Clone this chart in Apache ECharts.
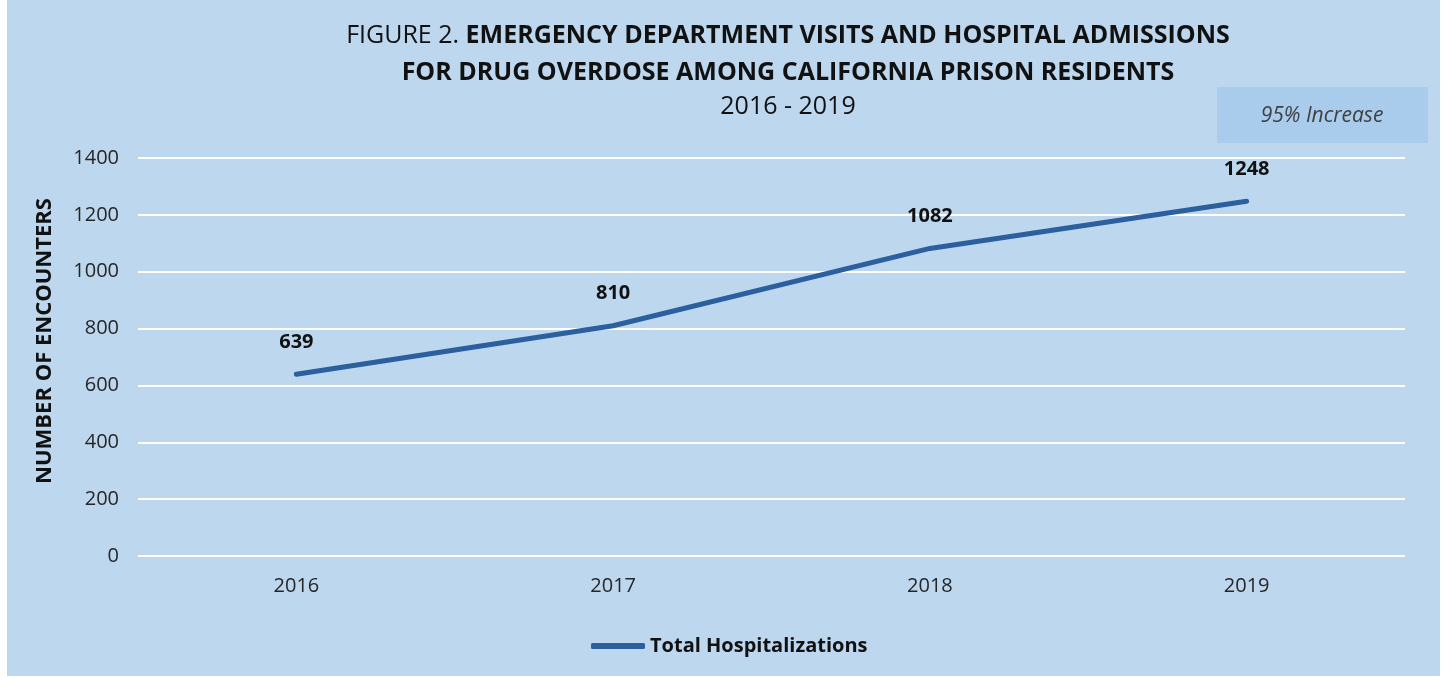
<!DOCTYPE html>
<html>
<head>
<meta charset="utf-8">
<script src="https://cdn.jsdelivr.net/npm/echarts@6/dist/echarts.min.js"></script>
<style>
  html, body { margin: 0; padding: 0; background: #ffffff; }
  #main { position: absolute; left: 7px; top: 0; width: 1433px; height: 676px; }
</style>
</head>
<body>
<div id="main"></div>
<script>
// data
const years = ['2016', '2017', '2018', '2019'];
const totalHospitalizations = [639, 810, 1082, 1248];
const seriesName = 'Total Hospitalizations';
const yTicks = { min: 0, max: 1400, interval: 200 };

const FONT = "'Open Sans', 'Noto Sans', sans-serif";
const LINE_COLOR = '#2B5F9E';

var chartDom = document.getElementById('main');
var myChart = echarts.init(chartDom);

var option = {
  backgroundColor: '#BDD7EE',
  textStyle: { fontFamily: FONT },
  grid: { left: 131, right: 35, top: 158, bottom: 120 },
  legend: {
    data: [seriesName],
    left: 579,
    top: 631,
    icon: 'roundRect',
    itemWidth: 54,
    itemHeight: 6,
    itemStyle: { color: LINE_COLOR, opacity: 1 },
    textStyle: { fontFamily: FONT, fontSize: 20, fontWeight: 'bold', color: '#111' }
  },
  graphic: [
    {
      type: 'text', x: 781, y: 36,
      style: {
        text: '{a|FIGURE 2.}{b| EMERGENCY DEPARTMENT VISITS AND HOSPITAL ADMISSIONS}',
        align: 'center', verticalAlign: 'middle',
        rich: {
          a: { fontFamily: FONT, fontSize: 25, fill: '#111' },
          b: { fontFamily: FONT, fontSize: 25, fontWeight: 'bold', fill: '#111' }
        }
      }
    },
    {
      type: 'text', x: 781, y: 73,
      style: {
        text: 'FOR DRUG OVERDOSE AMONG CALIFORNIA PRISON RESIDENTS',
        align: 'center', verticalAlign: 'middle',
        fontFamily: FONT, fontSize: 25, fontWeight: 'bold', fill: '#111'
      }
    },
    {
      type: 'text', x: 781, y: 107,
      style: {
        text: '2016 - 2019',
        align: 'center', verticalAlign: 'middle',
        fontFamily: FONT, fontSize: 25, fill: '#111'
      }
    },
    {
      type: 'rect',
      shape: { x: 1210, y: 87, width: 211, height: 56 },
      style: { fill: '#A9CBEC' }
    },
    {
      type: 'text', x: 1315, y: 116,
      style: {
        text: '95% Increase',
        align: 'center', verticalAlign: 'middle',
        fontFamily: FONT, fontSize: 21, fontStyle: 'italic', fill: '#404040'
      }
    },
    {
      type: 'text', x: 38, y: 341, rotation: Math.PI / 2,
      style: {
        text: 'NUMBER OF ENCOUNTERS',
        align: 'center', verticalAlign: 'middle',
        fontFamily: FONT, fontSize: 22, fontWeight: 'bold', fill: '#111'
      }
    }
  ],
  xAxis: {
    type: 'category',
    data: years,
    axisLine: { show: false },
    axisTick: { show: false },
    axisLabel: { fontSize: 20, color: '#262626', margin: 20 }
  },
  yAxis: {
    type: 'value',
    min: yTicks.min,
    max: yTicks.max,
    interval: yTicks.interval,
    axisLine: { show: false },
    axisTick: { show: false },
    axisLabel: { fontSize: 20, color: '#262626', margin: 19, formatter: (v) => String(v) },
    splitLine: { lineStyle: { color: '#ffffff', width: 2 } }
  },
  series: [
    {
      name: seriesName,
      type: 'line',
      data: totalHospitalizations,
      symbol: 'circle',
      symbolSize: 2,
      showSymbol: true,
      lineStyle: { color: LINE_COLOR, width: 5, cap: 'round' },
      itemStyle: { color: LINE_COLOR },
      label: {
        show: true,
        position: 'top',
        distance: 21,
        fontSize: 20,
        fontWeight: 'bold',
        color: '#111'
      }
    }
  ]
};

option && myChart.setOption(option);
window.addEventListener('resize', () => { myChart.resize(); });
</script>
</body>
</html>
